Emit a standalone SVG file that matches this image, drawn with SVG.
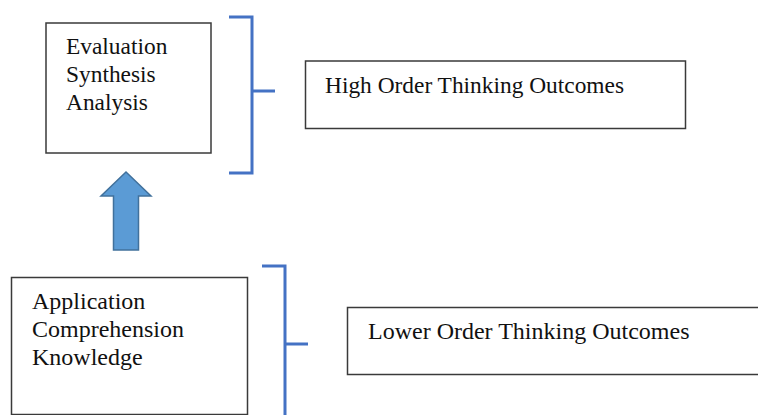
<svg xmlns="http://www.w3.org/2000/svg" width="758" height="415" viewBox="0 0 758 415">
  <style>
    .box { fill: #ffffff; stroke: #3a3a3a; stroke-width: 1.5; }
    .lbl { font-family: "Liberation Serif", "Times New Roman", serif; font-size: 23.4px; fill: #111111; }
    .lbl.lo { font-size: 24px; }
    .brace { fill: none; stroke: #4472C4; stroke-width: 3; }
    .up { fill: #5B9BD5; stroke: #41719C; stroke-width: 1.5; stroke-linejoin: miter; }
  </style>
  <rect width="758" height="415" fill="#ffffff"/>

  <!-- upper level -->
  <g id="higher-levels">
    <rect class="box" x="46" y="23" width="165" height="130"/>
    <text class="lbl" x="66" y="54">Evaluation</text>
    <text class="lbl" x="66" y="82">Synthesis</text>
    <text class="lbl" x="66" y="110">Analysis</text>
  </g>
  <g id="high-order">
    <rect class="box" x="305.5" y="61" width="380" height="67.5"/>
    <text class="lbl" x="325" y="93">High Order Thinking Outcomes</text>
  </g>

  <!-- lower level -->
  <g id="lower-levels">
    <rect class="box" x="11.5" y="277.5" width="236" height="137"/>
    <text class="lbl lo" x="32" y="309">Application</text>
    <text class="lbl lo" x="32" y="337">Comprehension</text>
    <text class="lbl lo" x="32" y="365">Knowledge</text>
  </g>
  <g id="lower-order">
    <rect class="box" x="347.5" y="307.5" width="420" height="67"/>
    <text class="lbl lo" x="368" y="339">Lower Order Thinking Outcomes</text>
  </g>

  <!-- connectors: brackets and the upward block arrow -->
  <g id="connectors">
    <path class="brace" d="M229 17 H252 V173 H229 M252 91 H275"/>
    <path class="brace" d="M262 266 H285 V420 M285 344 H308"/>
    <path class="up" d="M126 172 L151 196 H138.5 V250 H113.5 V196 H101 Z"/>
  </g>
</svg>
